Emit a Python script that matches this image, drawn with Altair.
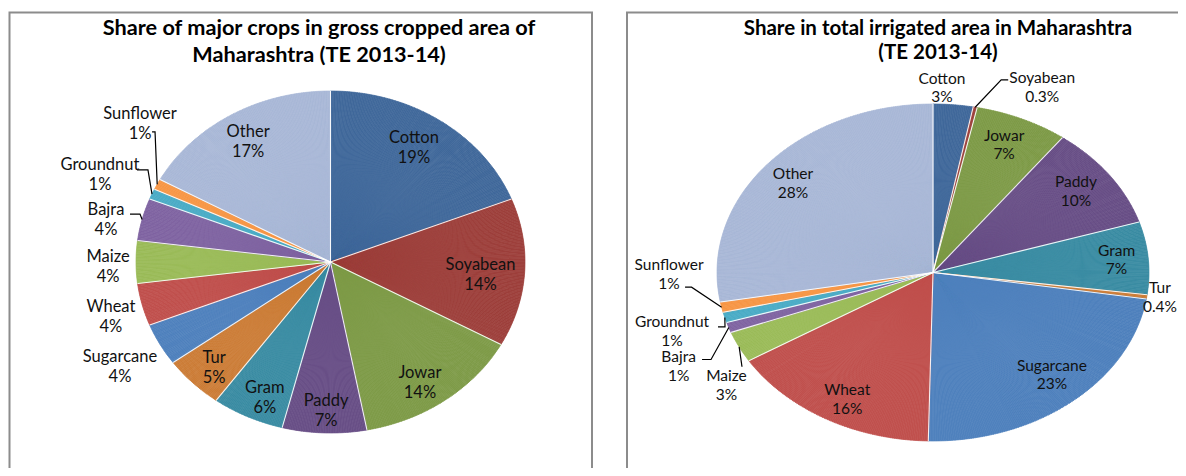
import altair as alt
import pandas as pd

# ---------------- data ----------------
crops = ["Cotton", "Soyabean", "Jowar", "Paddy", "Gram", "Tur", "Sugarcane",
         "Wheat", "Maize", "Bajra", "Groundnut", "Sunflower", "Other"]
gca_share = [19, 14, 14, 7, 6, 5, 4, 4, 4, 4, 1, 1, 17]          # % of gross cropped area
irr_share = [3, 0.3, 7, 10, 7, 0.4, 23, 16, 3, 1, 1, 1, 28]       # % of irrigated area

gca_title = "Share of major crops in gross cropped area of\nMaharashtra (TE 2013-14)"
irr_title = "Share in  total irrigated area in Maharashtra\n(TE 2013-14)"

palette = ["#41699B", "#9E403C", "#7E9B48", "#684F86", "#3B8CA3", "#CC7C37",
           "#4F81BD", "#C0504D", "#9BBB59", "#8064A2", "#4BACC6", "#F79646", "#A9B8D7"]

# ---------------- layout (label placement: radial factor, angle nudge in degrees) ----------------
M = 8  # page margin
gca_lab_r = [0.793, 0.775, 0.842, 0.871, 0.864, 0.862, 1.243, 1.174, 1.144, 1.180, 1.290, 1.269, 0.820]
gca_lab_dt = [-1.45, 2.0, 2.9, -0.3, -2.2, -1.0, -0.65, -1.5, -1.5, -2.4, -0.15, 12.5, -0.5]
irr_lab_r = [1.096, 1.207, 0.825, 0.818, 0.853, 1.061, 0.820, 0.853, 1.167, 1.304, 1.258, 1.222, 0.836]
irr_lab_dt = [-3.2, 13.5, -0.8, -0.7, -0.1, -0.3, -2.3, -2.1, -8.8, -6.4, -0.7, 11.3, -0.8]
# leader lines: offset of start from label centre (dx, dy) and horizontal elbow length
gca_leaders = {"Bajra": (24, -6, 10), "Groundnut": (37, -5, 11), "Sunflower": (12, 8, 3)}
irr_leaders = {"Soyabean": (-34, -8, -7), "Maize": (15.5, -18.5, 0), "Bajra": (23.4, -7.4, 9),
               "Groundnut": (46, -4.7, 7), "Sunflower": (16, 12.6, 6.5)}

FONT = "Lato"
color_scale = alt.Scale(domain=crops, range=palette)


def pie_layers(shares, lab_r, lab_dt, leaders, cx, cy, rx, ry, font_size, line_height):
    cx -= M
    cy -= M
    df = pd.DataFrame({
        "crop": crops,
        "share": shares,
        "idx": list(range(len(crops))),
        "lab_r": lab_r,
        "lab_dt": lab_dt,
        "has_leader": [c in leaders for c in crops],
        "ld_dx": [leaders.get(c, (0, 0, 0))[0] for c in crops],
        "ld_dy": [leaders.get(c, (0, 0, 0))[1] for c in crops],
        "ld_h": [leaders.get(c, (0, 0, 0))[2] for c in crops],
    })
    base = (
        alt.Chart(df)
        .transform_joinaggregate(total="sum(share)")
        .transform_window(cum="sum(share)", sort=[alt.SortField("idx")], frame=[None, 0])
        .transform_calculate(t1="2*PI*datum.cum/datum.total")
        .transform_calculate(t0="2*PI*(datum.cum-datum.share)/datum.total")
        .transform_calculate(tm="(datum.t0+datum.t1)/2")
    )

    # elliptical wedges built from thin circular sub-arcs
    slices = (
        base.transform_calculate(n="max(1, ceil((datum.t1-datum.t0)/(PI/360)))")
        .transform_calculate(k="sequence(0, datum.n)")
        .transform_flatten(["k"])
        .transform_calculate(a0="datum.t0 + (datum.t1-datum.t0)*datum.k/datum.n")
        .transform_calculate(a1="datum.t0 + (datum.t1-datum.t0)*(datum.k+1)/datum.n")
        .transform_calculate(am="(datum.a0+datum.a1)/2")
        .transform_calculate(q0=f"atan2({rx}*sin(datum.a0), {ry}*cos(datum.a0))")
        .transform_calculate(q1=f"atan2({rx}*sin(datum.a1), {ry}*cos(datum.a1))")
        .transform_calculate(p0="datum.q0 < 0 ? datum.q0 + 2*PI : datum.q0")
        .transform_calculate(p1r="datum.q1 < 0 ? datum.q1 + 2*PI : datum.q1")
        .transform_calculate(p1="datum.p1r < datum.p0 ? datum.p1r + 2*PI : datum.p1r")
        .transform_calculate(rm=f"sqrt(pow({rx}*sin(datum.am),2) + pow({ry}*cos(datum.am),2))")
        .mark_arc(strokeWidth=0.7)
        .encode(
            theta=alt.Theta("p0:Q", scale=None, stack=None),
            theta2="p1:Q",
            radius=alt.Radius("rm:Q", scale=None),
            x=alt.value(cx),
            y=alt.value(cy),
            color=alt.Color("crop:N", scale=color_scale, legend=None),
            stroke=alt.Stroke("crop:N", scale=color_scale, legend=None),
        )
    )

    seps = (
        base.transform_calculate(sx=f"{cx}", sy=f"{cy}")
        .transform_calculate(ex=f"{cx} + {rx}*sin(datum.t1)")
        .transform_calculate(ey=f"{cy} - {ry}*cos(datum.t1)")
        .mark_rule(color="white", strokeWidth=1.1, opacity=0.9)
        .encode(
            x=alt.X("sx:Q", scale=None, axis=None),
            y=alt.Y("sy:Q", scale=None, axis=None),
            x2="ex:Q",
            y2="ey:Q",
        )
    )

    lab_base = (
        base.transform_calculate(lm="datum.tm + datum.lab_dt*PI/180")
        .transform_calculate(lx=f"{cx} + datum.lab_r*{rx}*sin(datum.lm)")
        .transform_calculate(ly=f"{cy} - datum.lab_r*{ry}*cos(datum.lm)")
    )
    labels = (
        lab_base.transform_calculate(
            pct="(datum.share < 1 ? format(datum.share, '.1f') : format(datum.share, '.0f')) + '%'")
        .transform_calculate(txt="datum.crop + '\\n' + datum.pct")
        .mark_text(lineBreak="\n", font=FONT, fontSize=font_size, lineHeight=line_height,
                   align="center", baseline="middle", color="#111111", dy=-line_height / 2)
        .encode(
            x=alt.X("lx:Q", scale=None, axis=None),
            y=alt.Y("ly:Q", scale=None, axis=None),
            text="txt:N",
        )
    )

    lead = (
        lab_base.transform_filter("datum.has_leader")
        .transform_calculate(ex=f"{cx} + {rx}*sin(datum.tm)")
        .transform_calculate(ey=f"{cy} - {ry}*cos(datum.tm)")
        .transform_calculate(sx="datum.lx + datum.ld_dx")
        .transform_calculate(sy="datum.ly + datum.ld_dy")
        .transform_calculate(pt="sequence(0, 3)")
        .transform_flatten(["pt"])
        .transform_calculate(px="datum.pt == 0 ? datum.sx : (datum.pt == 1 ? datum.sx + datum.ld_h : datum.ex)")
        .transform_calculate(py="datum.pt == 2 ? datum.ey : datum.sy")
        .mark_line(color="black", strokeWidth=1.2)
        .encode(
            x=alt.X("px:Q", scale=None, axis=None),
            y=alt.Y("py:Q", scale=None, axis=None),
            detail="crop:N",
            order="pt:Q",
        )
    )
    return [slices, seps, lead, labels]


def frame(x, x2, y):
    return alt.Chart(pd.DataFrame({"f": [0]})).mark_rect(
        fillOpacity=0, stroke="#8C8C8C", strokeWidth=2
    ).encode(x=alt.value(x - M), x2=alt.value(x2 - M), y=alt.value(y - M), y2=alt.value(700))


def title(text, x, y, size, lh):
    return alt.Chart(pd.DataFrame({"t": [text]})).mark_text(
        lineBreak="\n", font=FONT, fontWeight="bold", fontSize=size, lineHeight=lh,
        align="center", baseline="middle", color="black", dy=-lh / 2
    ).encode(text="t:N", x=alt.value(x - M), y=alt.value(y - M))


layers = [frame(9.5, 592, 12.5), frame(627, 1400, 12.5)]
layers += pie_layers(gca_share, gca_lab_r, gca_lab_dt, gca_leaders, 330.5, 262, 194.5, 171, 16.5, 20)
layers += pie_layers(irr_share, irr_lab_r, irr_lab_dt, irr_leaders, 933, 272.5, 216, 168.5, 15.5, 18.8)
layers += [title(gca_title, 319, 41.7, 21.7, 26.5), title(irr_title, 938, 41, 20.5, 23.5)]

chart = (
    alt.layer(*layers)
    .properties(width=1170, height=460, padding=0, autosize=alt.AutoSizeParams(type="none"))
    .configure_view(stroke="transparent")
)

chart.save("out.html", embed_options={"renderer": "svg", "actions": False})
